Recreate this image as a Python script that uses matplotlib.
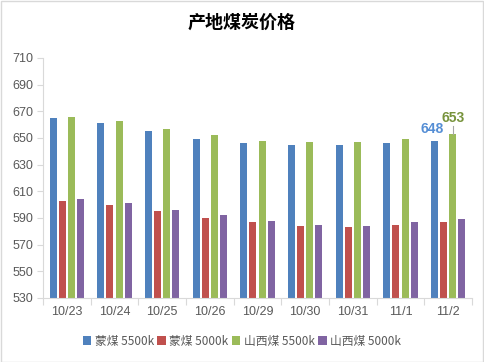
import numpy as np
import matplotlib
matplotlib.use('Agg')
import matplotlib.pyplot as plt
from matplotlib.patches import Rectangle

plt.rcParams['font.family'] = ['Noto Sans CJK SC', 'DejaVu Sans']

# 数据
fechas = ['10/23', '10/24', '10/25', '10/26', '10/29', '10/30', '10/31', '11/1', '11/2']
meng_5500 = [665, 661, 655, 649, 646, 645, 645, 646, 648]
meng_5000 = [603, 600, 595, 590, 587, 584, 583, 585, 587]
shanxi_5500 = [666, 663, 657, 652, 648, 647, 647, 649, 653]
shanxi_5000 = [604, 601, 596, 592, 588, 585, 584, 587, 589]
series_names = ['蒙煤 5500k', '蒙煤 5000k', '山西煤 5500k', '山西煤 5000k']
colores = ['#4F81BD', '#C0504D', '#9BBB59', '#8064A2']
yticks = list(range(530, 711, 20))

fig = plt.figure(figsize=(4.84, 3.62), dpi=100, facecolor='white')
ax = fig.add_axes([43 / 484, 1 - 298 / 362, (472 - 43) / 484, (298 - 58) / 362])

x = np.arange(len(fechas))
series = [meng_5500, meng_5000, shanxi_5500, shanxi_5000]
ancho = 0.147
paso = 0.189
for i, (vals, color, name) in enumerate(zip(series, colores, series_names)):
    offset = (i - 1.5) * paso
    ax.bar(x + offset, np.array(vals) - 530, bottom=530, width=ancho,
           color=color, label=name)

ax.set_xlim(-0.5, len(fechas) - 0.5)
ax.set_ylim(530, 710)
ax.set_yticks(yticks)
ax.set_xticks(x)
ax.set_xticklabels(fechas)
ax.set_xticks(np.arange(-0.5, len(fechas)), minor=True)

ax.tick_params(axis='y', labelsize=9, colors='#595959', length=4, width=0.8,
               color='#D9D9D9', pad=3)
ax.tick_params(axis='x', which='major', labelsize=9, colors='#595959', length=0, pad=6)
ax.tick_params(axis='x', which='minor', length=5, width=0.8, color='#D9D9D9')
for lbl in ax.get_yticklabels() + ax.get_xticklabels():
    lbl.set_family(['Liberation Sans', 'DejaVu Sans'])

ax.spines['top'].set_visible(False)
ax.spines['right'].set_visible(False)
ax.spines['left'].set_color('#D9D9D9')
ax.spines['bottom'].set_color('#D9D9D9')

# 数据标签
last = len(fechas) - 1
ax.text(last + (0 - 1.5) * paso - 0.05, meng_5500[-1] + 3.5, str(meng_5500[-1]),
        color='#558ED5', fontsize=10, fontweight='bold', ha='center', va='bottom',
        family=['Liberation Sans', 'DejaVu Sans'])
xg = last + (2 - 1.5) * paso
ax.plot([xg, xg], [shanxi_5500[-1], shanxi_5500[-1] + 6], color='#A6A6A6', lw=0.8)
ax.text(xg, shanxi_5500[-1] + 7, str(shanxi_5500[-1]),
        color='#77933C', fontsize=10, fontweight='bold', ha='center', va='bottom',
        family=['Liberation Sans', 'DejaVu Sans'])

fig.text(0.5, 1 - 22 / 362, '产地煤炭价格', ha='center', va='center',
         fontsize=13, fontweight='bold', color='#000000')

ax.legend(loc='center', bbox_to_anchor=(0.5, 1 - 341 / 362), bbox_transform=fig.transFigure,
          ncol=4, frameon=False, fontsize=8.5, handlelength=0.7, handleheight=0.7,
          handletextpad=0.3, columnspacing=0.3, labelcolor='#595959')

fig.patches.append(Rectangle((0.5 / 484, 0.5 / 362), 1 - 1.5 / 484, 1 - 1.5 / 362,
                             transform=fig.transFigure, fill=False,
                             edgecolor='#D9D9D9', lw=1))

fig.savefig('out.png', dpi=100, facecolor='white')
